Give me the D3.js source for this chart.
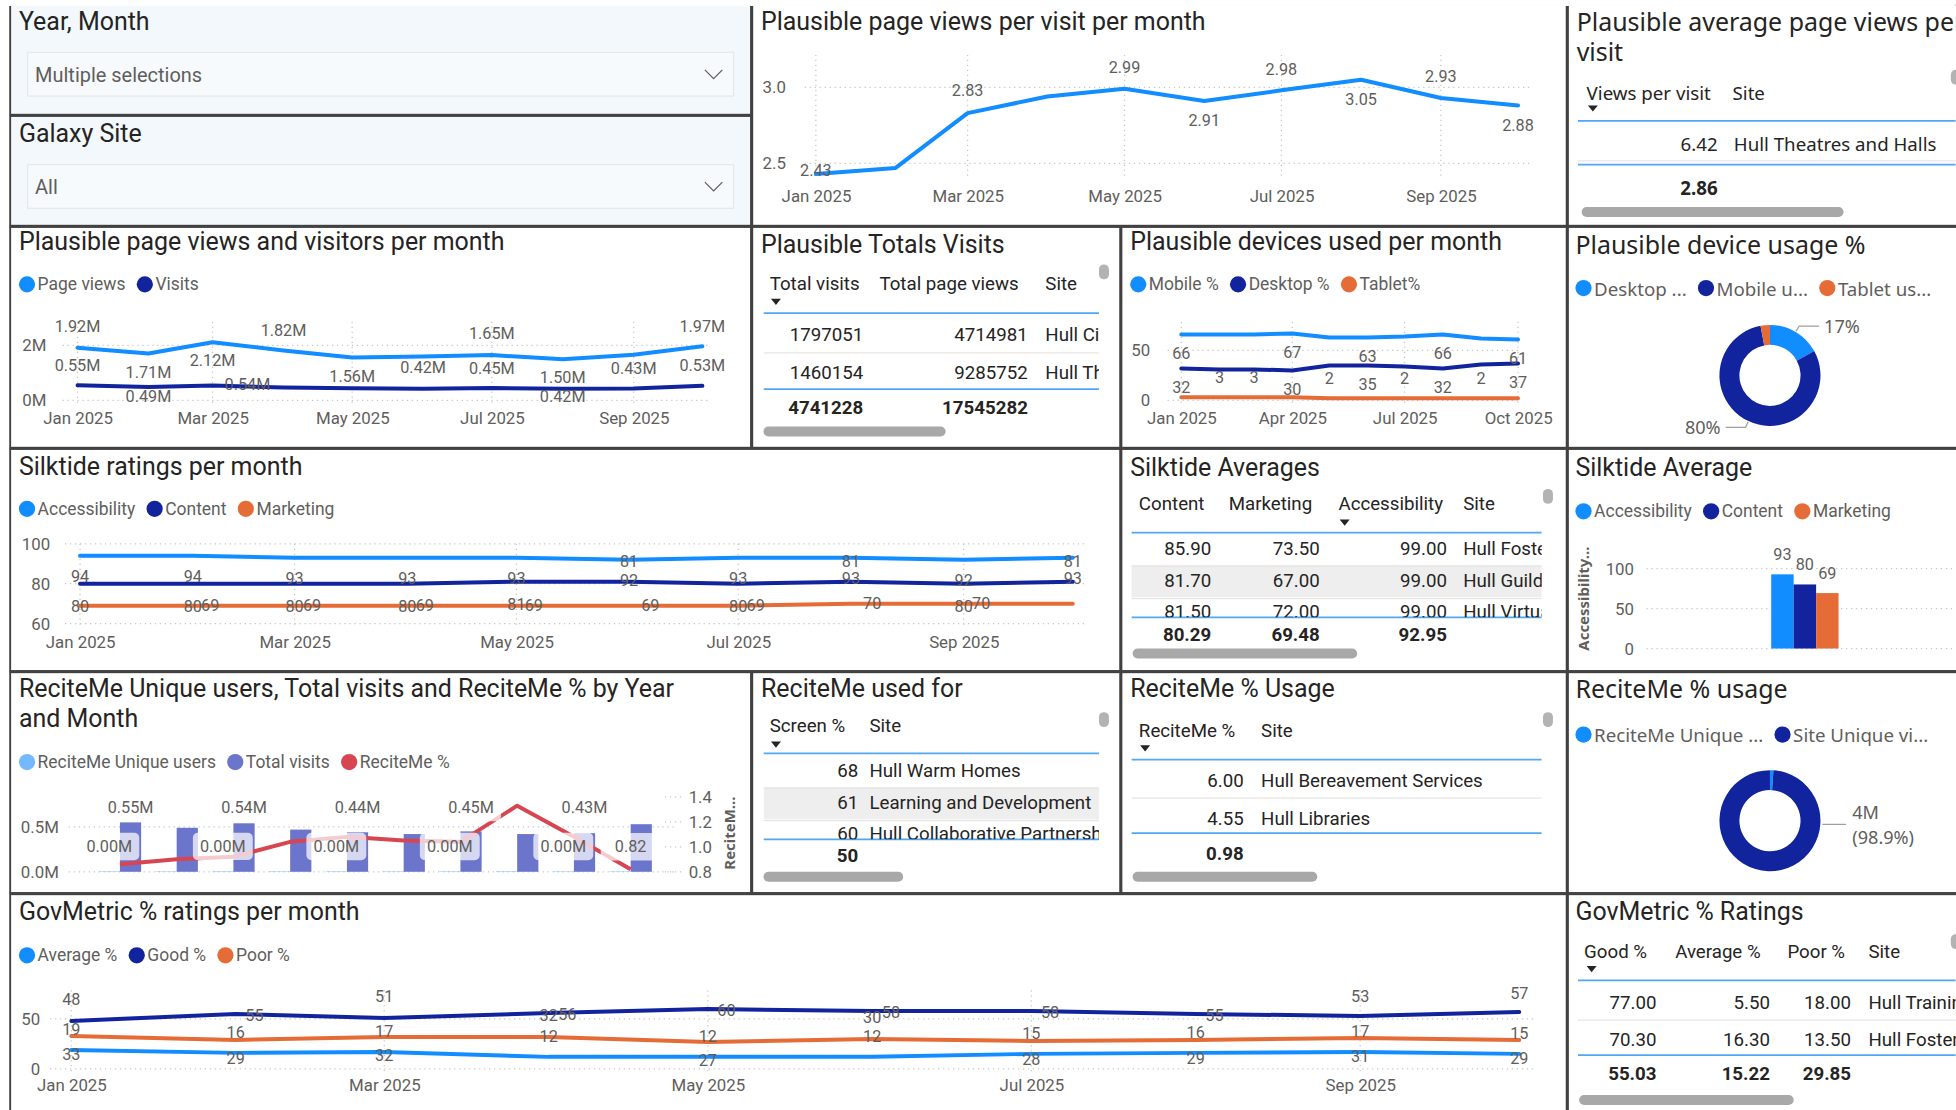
<!DOCTYPE html>
<html>
<head>
<meta charset="utf-8">
<title>Web analytics dashboard</title>
<script src="https://cdn.jsdelivr.net/npm/d3@7/dist/d3.min.js"></script>
<style>
  body { margin: 0; background: #fff; }
  svg { display: block; }
  text { font-family: Roboto, "DejaVu Sans", sans-serif; fill: #605E5C; }
  .title { fill: #252423; font-size: 20px; }
  .seg { font-family: "Noto Sans", sans-serif; }
  .tick text { font-size: 13.5px; fill: #605E5C; }
  .lbl { font-size: 13px; fill: #605E5C; }
  .grid { stroke: #C8C6C4; stroke-dasharray: 1 3; stroke-width: 1; }
</style>
</head>
<body>
<svg id="dash" width="1956" height="1110" viewBox="0 0 1568 890"></svg>
<script>
// ---------- data ----------
const months = ["Jan 2025", "Feb 2025", "Mar 2025", "Apr 2025", "May 2025",
  "Jun 2025", "Jul 2025", "Aug 2025", "Sep 2025", "Oct 2025"];
const viewsPerVisit = [2.43, 2.47, 2.83, 2.94, 2.99, 2.91, 2.98, 3.05, 2.93, 2.88];
const pageViews = [1.92e6, 1.71e6, 2.12e6, 1.82e6, 1.56e6, 1.60e6, 1.65e6, 1.50e6, 1.66e6, 1.97e6];
const visits = [0.55e6, 0.49e6, 0.54e6, 0.47e6, 0.44e6, 0.42e6, 0.45e6, 0.42e6, 0.43e6, 0.53e6];
const mobilePct = [66, 66, 66, 67, 63, 63, 64, 66, 62, 61];
const desktopPct = [32, 31, 31, 30, 35, 35, 34, 32, 36, 37];
const tabletPct = [3, 3, 3, 3, 2, 2, 2, 2, 2, 2];
const deviceNames = ["Desktop usage %", "Mobile usage %", "Tablet usage %"];
const deviceShare = [17, 80, 3];
const accessibility = [94, 94, 93, 93, 93, 92, 93, 93, 92, 93];
const content = [80, 80, 80, 80, 81, 81, 80, 81, 80, 81];
const marketing = [69, 69, 69, 69, 69, 69, 69, 70, 70, 70];
const silktideNames = ["Accessibility", "Content", "Marketing"];
const silktideAvg = [92.95, 80.29, 69.48];
const reciteUsers = [4700, 4400, 4950, 4900, 4750, 4400, 4700, 5600, 4650, 4350];
const recitePct = [0.86, 0.90, 0.92, 1.04, 1.08, 1.05, 1.04, 1.33, 1.08, 0.82];
const reciteShareNames = ["ReciteMe Unique users", "Site Unique visitors"];
const reciteShare = [47000, 4200000];
const govAverage = [19, 16, 17, 12, 12, 12, 15, 16, 17, 15];
const govGood = [48, 55, 51, 56, 60, 58, 58, 55, 53, 57];
const govPoor = [33, 29, 32, 32, 27, 30, 28, 29, 31, 29];

const avgViewsCols = ["Views per visit", "Site"];
const avgViewsRows = [[6.42, "Hull Theatres and Halls"]];
const avgViewsTotal = [2.86];
const totalsCols = ["Total visits", "Total page views", "Site"];
const totalsRows = [[1797051, 4714981, "Hull City Council"], [1460154, 9285752, "Hull Theatres and Halls"]];
const totalsTotal = [4741228, 17545282];
const silkCols = ["Content", "Marketing", "Accessibility", "Site"];
const silkRows = [[85.90, 73.50, 99.00, "Hull Fostering"], [81.70, 67.00, 99.00, "Hull Guildhall"], [81.50, 72.00, 99.00, "Hull Virtual School"]];
const silkTotal = [80.29, 69.48, 92.95];
const screenCols = ["Screen %", "Site"];
const screenRows = [[68, "Hull Warm Homes"], [61, "Learning and Development"], [60, "Hull Collaborative Partnership"]];
const screenTotal = [50];
const reciteCols = ["ReciteMe %", "Site"];
const reciteRows = [[6.00, "Hull Bereavement Services"], [4.55, "Hull Libraries"]];
const reciteTotal = [0.98];
const govCols = ["Good %", "Average %", "Poor %", "Site"];
const govRows = [[77.00, 5.50, 18.00, "Hull Training"], [70.30, 16.30, 13.50, "Hull Fostering"]];
const govTotal = [55.03, 15.22, 29.85];

// ---------- setup ----------
const svg = d3.select("#dash");
const C = { light: "#118DFF", dark: "#12239E", orange: "#E66C37", red: "#D64550", purple: "#6B75CB", sky: "#74B9FF" };
const dates = months.map(d3.timeParse("%b %Y"));
const f2 = d3.format(".2f"), f0 = d3.format("d");
const fmtM = v => f2(v / 1e6) + "M";
let clipN = 0;
function clip(x, y, w, h) {
  const id = "c" + (clipN++);
  svg.append("clipPath").attr("id", id).append("rect").attr("x", x).attr("y", y).attr("width", w).attr("height", h);
  return "url(#" + id + ")";
}

// panels: x, y, w, h, fill
const panels = [
  [8, 4, 594, 88, "#F3F8FC"], [8, 93, 594, 88, "#F3F8FC"], [603, 4, 653, 177], [1257, 4, 330, 177],
  [8, 182, 594, 177], [603, 182, 295, 177], [899, 182, 357, 177], [1257, 182, 330, 177],
  [8, 360, 890, 178], [899, 360, 357, 178], [1257, 360, 330, 178],
  [8, 539, 594, 177], [603, 539, 295, 177], [899, 539, 357, 177], [1257, 539, 330, 177],
  [8, 717, 1248, 190], [1257, 717, 330, 190]
];
svg.selectAll("rect.panel").data(panels).join("rect").attr("class", "panel")
  .attr("x", d => d[0]).attr("y", d => d[1]).attr("width", d => d[2]).attr("height", d => d[3])
  .attr("fill", d => d[4] || "#fff").attr("stroke", "#404040").attr("stroke-width", 1.5);
svg.append("rect").attr("x", 0).attr("y", 0).attr("width", 1568).attr("height", 4.8).attr("fill", "#fff");

function title(x, y, txt, seg) {
  svg.append("text").attr("class", "title" + (seg ? " seg" : "")).attr("x", x).attr("y", y)
    .attr("dominant-baseline", "central").attr("font-size", seg ? 19 : null).text(txt);
}

function legend(x, y, names, colors, size, seg) {
  const g = svg.append("g").attr("transform", `translate(${x},${y})`);
  let cx = 0;
  names.forEach((n, i) => {
    g.append("circle").attr("cx", cx + 6.5).attr("r", 6.5).attr("fill", colors[i]);
    const t = g.append("text").attr("x", cx + 15).attr("dominant-baseline", "central")
      .attr("font-size", size).attr("class", seg ? "seg" : null).text(n);
    cx += 15 + t.node().getComputedTextLength() + 9;
  });
}

// slicers
[["Year, Month", 17, "Multiple selections", 42], ["Galaxy Site", 107, "All", 132]].forEach(s => {
  title(15, s[1], s[0]);
  svg.append("rect").attr("x", 22).attr("y", s[3]).attr("width", 566).attr("height", 35)
    .attr("fill", "#F7FAFD").attr("stroke", "#E6E8EA");
  svg.append("text").attr("x", 28).attr("y", s[3] + 18).attr("dominant-baseline", "central")
    .attr("font-size", 16).text(s[2]);
  svg.append("path").attr("d", `M565,${s[3] + 14}L572,${s[3] + 21}L579,${s[3] + 14}`)
    .attr("fill", "none").attr("stroke", "#605E5C").attr("stroke-width", 1);
});

// ---------- line charts ----------
function lineChart(c) {
  const g = svg.append("g");
  const x = d3.scaleTime().domain(d3.extent(dates)).range(c.xr);
  const y = d3.scaleLinear().domain(c.yd).range(c.yr);
  const xt = dates.filter((d, i) => i % c.xEvery === 0);
  g.selectAll(null).data(c.yTicks).join("line").attr("class", "grid")
    .attr("x1", c.gx[0]).attr("x2", c.gx[1]).attr("y1", y).attr("y2", y);
  g.selectAll(null).data(xt).join("line").attr("class", "grid")
    .attr("x1", x).attr("x2", x).attr("y1", c.gy[0]).attr("y2", c.gy[1]);
  const ya = g.append("g").attr("transform", `translate(${c.yAxisX},0)`)
    .call(d3.axisLeft(y).tickValues(c.yTicks).tickFormat(c.yFmt).tickSize(0).tickPadding(0));
  const xa = g.append("g").attr("transform", `translate(0,${c.xAxisY})`)
    .call(d3.axisBottom(x).tickValues(xt).tickFormat(d3.timeFormat("%b %Y")).tickSize(0).tickPadding(0));
  [ya, xa].forEach(a => {
    a.attr("font-size", null).attr("font-family", null);
    a.select(".domain").remove();
    a.selectAll(".tick line").remove();
  });
  xa.selectAll("text").attr("y", 0).attr("dy", "0.35em");
  c.series.forEach(s => {
    g.append("path").datum(s.values).attr("fill", "none").attr("stroke", s.color).attr("stroke-width", 3.2)
      .attr("stroke-linejoin", "round").attr("stroke-linecap", "round")
      .attr("d", d3.line().x((d, i) => x(dates[i])).y(d => y(d)));
  });
  c.series.forEach(s => {
    g.selectAll(null).data(s.values.map((v, i) => ({ v, i, o: s.offs[i] })).filter(d => d.o))
      .join("text").attr("class", "lbl").attr("text-anchor", "middle").attr("dominant-baseline", "central")
      .attr("x", d => x(dates[d.i]) + d.o[0]).attr("y", d => y(d.v) + d.o[1]).text(d => s.fmt(d.v));
  });
}

const A = [0, -17], B = [0, 15];

title(610, 17, "Plausible page views per visit per month");
lineChart({
  xr: [654, 1217], yd: [2.5, 3.0], yr: [131, 70], yTicks: [2.5, 3.0], yFmt: d3.format(".1f"),
  gx: [645, 1228], gy: [44, 144], yAxisX: 630, xAxisY: 157, xEvery: 2,
  series: [{ values: viewsPerVisit, color: C.light, fmt: f2,
    offs: [[0, -3], null, [0, -18], null, A, [0, 16], A, [0, 16], A, [0, 16]] }]
});

title(15, 194, "Plausible page views and visitors per month");
legend(15, 228, ["Page views", "Visits"], [C.light, C.dark], 14);
lineChart({
  xr: [62, 563], yd: [0, 2e6], yr: [321, 277], yTicks: [0, 2e6], yFmt: d => d / 1e6 + "M",
  gx: [50, 569], gy: [258, 323], yAxisX: 37, xAxisY: 335, xEvery: 2,
  series: [
    { values: pageViews, color: C.light, fmt: fmtM,
      offs: [A, B, B, [0, -16], B, null, A, B, null, [0, -16]] },
    { values: visits, color: C.dark, fmt: fmtM,
      offs: [[0, -16], [0, 8], [28, -1], null, null, A, [0, -16], [0, 6], [0, -16], [0, -16]] }
  ]
});

title(906, 194, "Plausible devices used per month");
legend(906, 228, ["Mobile %", "Desktop %", "Tablet%"], [C.light, C.dark, C.orange], 14);
const every = (idx, o) => d3.range(10).map(i => idx.includes(i) ? o : null);
lineChart({
  xr: [947, 1217], yd: [0, 50], yr: [321, 281], yTicks: [0, 50], yFmt: f0,
  gx: [936, 1218], gy: [258, 323], yAxisX: 922, xAxisY: 335, xEvery: 3,
  series: [
    { values: mobilePct, color: C.light, fmt: f0, offs: every([0, 3, 5, 7, 9], B) },
    { values: desktopPct, color: C.dark, fmt: f0, offs: every([0, 3, 5, 7, 9], B) },
    { values: tabletPct, color: C.orange, fmt: f0, offs: every([1, 2, 4, 6, 8], [0, -16]) }
  ]
});

title(15, 374, "Silktide ratings per month");
legend(15, 408, silktideNames, [C.light, C.dark, C.orange], 14);
lineChart({
  xr: [64, 860], yd: [60, 100], yr: [500, 436], yTicks: [60, 80, 100], yFmt: f0,
  gx: [52, 869], gy: [436, 502], yAxisX: 40, xAxisY: 515, xEvery: 2,
  series: [
    { values: accessibility, color: C.light, fmt: f0, offs: d3.range(10).map(() => [0, 17]) },
    { values: content, color: C.dark, fmt: f0,
      offs: d3.range(10).map(i => [5, 7, 9].includes(i) ? [0, -16] : [0, 18]) },
    { values: marketing, color: C.orange, fmt: f0,
      offs: d3.range(10).map(i => i === 0 || i === 9 ? null : ([5, 7].includes(i) ? [17, 0] : [14, 0])) }
  ]
});

title(15, 731, "GovMetric % ratings per month");
legend(15, 766, ["Average %", "Good %", "Poor %"], [C.light, C.dark, C.orange], 14);
const R = [15, 1];
lineChart({
  xr: [57, 1218], yd: [0, 50], yr: [857, 817], yTicks: [0, 50], yFmt: f0,
  gx: [40, 1230], gy: [794, 860], yAxisX: 32, xAxisY: 870, xEvery: 2,
  series: [
    { values: govAverage, color: C.light, fmt: f0, offs: d3.range(10).map(() => [0, -16]) },
    { values: govGood, color: C.dark, fmt: f0, offs: [A, R, A, R, R, R, R, R, [0, -16], [0, -15]] },
    { values: govPoor, color: C.orange, fmt: f0,
      offs: d3.range(10).map(i => (i === 3 || i === 5) ? [0, -17] : B) }
  ]
});

// ---------- ReciteMe combo chart ----------
title(15, 552, "ReciteMe Unique users, Total visits and ReciteMe % by Year");
title(15, 576, "and Month");
legend(15, 611, ["ReciteMe Unique users", "Total visits", "ReciteMe %"], [C.sky, C.purple, C.red], 14);
(function () {
  const g = svg.append("g");
  const x = d3.scaleBand().domain(months).range([73.25, 528.25]);
  const sub = d3.scaleBand().domain(["users", "visits"]).range([-17, 17]);
  const yL = d3.scaleLinear().domain([0, 0.5e6]).range([699, 663]);
  const yR = d3.scaleLinear().domain([0.8, 1.4]).range([699, 639]);
  const mid = m => x(m) + x.bandwidth() / 2;
  g.selectAll(null).data([0, 0.5e6]).join("line").attr("class", "grid")
    .attr("x1", 55).attr("x2", 540).attr("y1", yL).attr("y2", yL);
  g.selectAll(null).data([0.8, 1.0, 1.2, 1.4]).join("line").attr("class", "grid")
    .attr("x1", 533).attr("x2", 546).attr("y1", yR).attr("y2", yR);
  const ya = g.append("g").attr("transform", "translate(47,0)")
    .call(d3.axisLeft(yL).tickValues([0, 0.5e6]).tickFormat(d => d3.format(".1f")(d / 1e6) + "M").tickSize(0).tickPadding(0));
  const yr = g.append("g").attr("transform", "translate(552,0)")
    .call(d3.axisRight(yR).tickValues([0.8, 1.0, 1.2, 1.4]).tickFormat(d3.format(".1f")).tickSize(0).tickPadding(0));
  [ya, yr].forEach(a => { a.attr("font-size", null).attr("font-family", null); a.select(".domain").remove(); a.selectAll(".tick line").remove(); });
  g.append("text").attr("transform", "translate(589,668) rotate(-90)").attr("text-anchor", "middle")
    .attr("font-size", 12).attr("font-weight", "bold").attr("class", "seg").text("ReciteM...");
  g.selectAll(null).data(months).join("rect")
    .attr("x", m => mid(m) + sub("users")).attr("width", sub.bandwidth())
    .attr("y", (m, i) => yL(reciteUsers[i])).attr("height", (m, i) => 699 - yL(reciteUsers[i])).attr("fill", C.sky);
  g.selectAll(null).data(months).join("rect")
    .attr("x", m => mid(m) + sub("visits")).attr("width", sub.bandwidth())
    .attr("y", (m, i) => yL(visits[i])).attr("height", (m, i) => 699 - yL(visits[i])).attr("fill", C.purple);
  g.append("path").datum(recitePct).attr("fill", "none").attr("stroke", C.red).attr("stroke-width", 3.2)
    .attr("stroke-linejoin", "round").attr("d", d3.line().x((d, i) => mid(months[i])).y(d => yR(d)));
  // data labels with translucent backgrounds
  const labs = [];
  months.forEach((m, i) => {
    if (i % 2 === 0) {
      labs.push({ x: mid(m) + sub("visits") + 8.5, y: yL(d3.max(visits)) - 12, t: fmtM(visits[i]) });
      labs.push({ x: mid(m) + sub("users") + 8.5, y: yL(reciteUsers[i]) - 20, t: fmtM(reciteUsers[i]) });
    }
  });
  labs.push({ x: mid(months[9]), y: yR(recitePct[9]) - 18, t: f2(recitePct[9]) });
  const lg = g.selectAll(null).data(labs).join("g");
  lg.append("rect").attr("x", d => d.x - 24).attr("y", d => d.y - 11)
    .attr("width", 48).attr("height", 22).attr("rx", 4).attr("fill", "#fff").attr("opacity", 0.72);
  lg.append("text").attr("class", "lbl").attr("x", d => d.x).attr("y", d => d.y)
    .attr("text-anchor", "middle").attr("dominant-baseline", "central").text(d => d.t);
})();

// ---------- Silktide average bars ----------
title(1263, 375, "Silktide Average");
legend(1263, 410, silktideNames, [C.light, C.dark, C.orange], 14);
(function () {
  const g = svg.append("g");
  const x = d3.scaleBand().domain(silktideNames).range([1420, 1474]);
  const y = d3.scaleLinear().domain([0, 100]).range([520, 456]);
  g.selectAll(null).data([0, 50, 100]).join("line").attr("class", "grid")
    .attr("x1", 1320).attr("x2", 1568).attr("y1", y).attr("y2", y);
  const ya = g.append("g").attr("transform", "translate(1310,0)")
    .call(d3.axisLeft(y).tickValues([0, 50, 100]).tickSize(0).tickPadding(0));
  ya.attr("font-size", null).attr("font-family", null);
  ya.select(".domain").remove();
  g.append("text").attr("transform", "translate(1274,480) rotate(-90)").attr("text-anchor", "middle")
    .attr("font-size", 12).attr("font-weight", "bold").attr("class", "seg").text("Accessibility...");
  const colors = [C.light, C.dark, C.orange];
  g.selectAll(null).data(silktideAvg).join("rect")
    .attr("x", (d, i) => x(silktideNames[i])).attr("width", x.bandwidth())
    .attr("y", d => y(d)).attr("height", d => 520 - y(d)).attr("fill", (d, i) => colors[i]);
  g.selectAll(null).data(silktideAvg).join("text").attr("class", "lbl").attr("text-anchor", "middle")
    .attr("x", (d, i) => x(silktideNames[i]) + x.bandwidth() / 2).attr("y", d => y(d) - 16)
    .attr("dominant-baseline", "central").text(d => d3.format(".0f")(d));
})();

// ---------- donuts ----------
function donut(cx, cy, values, colors) {
  const g = svg.append("g").attr("transform", `translate(${cx},${cy})`);
  const arcs = d3.pie().sort(null).value(d => d)(values);
  const arc = d3.arc().innerRadius(24.5).outerRadius(40.5);
  g.selectAll(null).data(arcs).join("path").attr("d", arc).attr("fill", (d, i) => colors[i]);
  return { g, arcs };
}
title(1263, 196, "Plausible device usage %", true);
legend(1263, 231, ["Desktop ...", "Mobile u...", "Tablet us..."], [C.light, C.dark, C.orange], 15, true);
(function () {
  const { g, arcs } = donut(1419, 301, deviceShare, [C.light, C.dark, C.orange]);
  const total = d3.sum(deviceShare);
  arcs.slice(0, 2).forEach(a => {
    const m = (a.startAngle + a.endAngle) / 2, s = Math.sin(m) >= 0 ? 1 : -1;
    const p0 = [Math.sin(m) * 41, -Math.cos(m) * 41], p1 = [Math.sin(m) * 46, -Math.cos(m) * 46];
    const p2 = [p1[0] + s * 16, p1[1]];
    g.append("path").attr("d", `M${p0}L${p1}L${p2}`).attr("fill", "none").attr("stroke", "#A19F9D");
    g.append("text").attr("class", "seg").attr("font-size", 14.5).attr("x", p2[0] + s * 4).attr("y", p2[1])
      .attr("text-anchor", s > 0 ? "start" : "end").attr("dominant-baseline", "central")
      .text(d3.format(".0f")(a.data / total * 100) + "%");
  });
})();

title(1263, 552, "ReciteMe % usage", true);
legend(1263, 589, ["ReciteMe Unique ...", "Site Unique vi..."], [C.light, C.dark], 15, true);
(function () {
  const { g } = donut(1419, 658, reciteShare, [C.light, C.dark]);
  const total = d3.sum(reciteShare);
  g.append("path").attr("d", "M42,3L61,3").attr("stroke", "#A19F9D");
  g.append("text").attr("class", "seg").attr("font-size", 14.5).attr("x", 66).attr("y", -7)
    .attr("dominant-baseline", "central").text(d3.format(".0f")(reciteShare[1] / 1e6) + "M");
  g.append("text").attr("class", "seg").attr("font-size", 14.5).attr("x", 66).attr("y", 13)
    .attr("dominant-baseline", "central").text("(" + d3.format(".1f")(reciteShare[1] / total * 100) + "%)");
})();

// ---------- tables ----------
function table(t) {
  const g = svg.append("g").attr("font-size", 15);
  const full = clip(t.x0, 0, t.x1 - t.x0, 890);
  const body = clip(t.x0, t.line1, t.x1 - t.x0, t.line2 - t.line1);
  const cls = t.seg ? "seg" : null;
  const hg = g.append("g").attr("clip-path", full);
  t.cols.forEach((c, j) => {
    hg.append("text").attr("class", cls).attr("x", c[0]).attr("y", t.headY).attr("dominant-baseline", "central")
      .style("fill", "#252423").text(t.names[j]);
  });
  hg.append("path").attr("d", `M${t.arrow[0] - 4},${t.arrow[1] - 2.5}h8l-4,5z`).attr("fill", "#252423");
  const bg = g.append("g").attr("clip-path", body);
  if (t.shade != null) {
    bg.append("rect").attr("x", t.x0).attr("width", t.x1 - t.x0).attr("y", t.rowY[t.shade] - 13)
      .attr("height", 26).attr("fill", "#EEEEEE");
  }
  t.rows.forEach((r, i) => {
    bg.append("line").attr("x1", t.x0).attr("x2", t.x1).attr("y1", t.rowY[i] + 14).attr("y2", t.rowY[i] + 14)
      .attr("stroke", "#E8E6E4");
    r.forEach((v, j) => {
      const c = t.cols[j];
      bg.append("text").attr("class", cls).attr("x", c[1]).attr("y", t.rowY[i])
        .attr("text-anchor", c[2]).attr("dominant-baseline", "central").style("fill", "#252423")
        .text(typeof v === "number" ? t.fmt(v) : v);
    });
  });
  [t.line1, t.line2].forEach(yy => hg.append("line").attr("x1", t.x0).attr("x2", t.x1).attr("y1", yy).attr("y2", yy)
    .attr("stroke", "#4FA7F6").attr("stroke-width", 1.4));
  t.total.forEach((v, j) => {
    hg.append("text").attr("class", cls).attr("x", t.cols[j][1]).attr("y", t.totY).attr("text-anchor", "end")
      .attr("dominant-baseline", "central").attr("font-weight", "bold").style("fill", "#252423").text(t.fmt(v));
  });
  g.append("rect").attr("x", t.scroll[0]).attr("y", t.scroll[2] - 4).attr("width", t.scroll[1] - t.scroll[0])
    .attr("height", 8).attr("rx", 4).attr("fill", "#A8A8A8");
  g.append("rect").attr("x", t.knob[0] - 4).attr("y", t.knob[1] - 6).attr("width", 8).attr("height", 12)
    .attr("rx", 4).attr("fill", "#B3B3B3");
}

title(1264, 17, "Plausible average page views per", true);
title(1264, 41, "visit", true);
table({ seg: true, x0: 1265, x1: 1568, names: avgViewsCols, cols: [[1272, 1377, "end"], [1389, 1390, "start"]],
  headY: 74, arrow: [1277, 87], line1: 97, rows: avgViewsRows, rowY: [115], line2: 132,
  total: avgViewsTotal, totY: 150, scroll: [1268, 1478, 170], knob: [1568, 62], fmt: f2 });

title(610, 196, "Plausible Totals Visits");
table({ x0: 612, x1: 881, names: totalsCols, cols: [[617, 692, "end"], [705, 824, "end"], [838, 838, "start"]],
  headY: 228, arrow: [622, 242], line1: 251, rows: totalsRows, rowY: [269, 299], line2: 312,
  total: totalsTotal, totY: 327, scroll: [612, 758, 346], knob: [885, 218], fmt: f0 });

title(906, 375, "Silktide Averages");
table({ x0: 907, x1: 1236, names: silkCols,
  cols: [[913, 971, "end"], [985, 1058, "end"], [1073, 1160, "end"], [1173, 1173, "start"]],
  headY: 404, arrow: [1078, 419], line1: 427, rows: silkRows, rowY: [440, 466, 491], shade: 1, line2: 495,
  total: silkTotal, totY: 509, scroll: [908, 1088, 524], knob: [1241, 398], fmt: f2 });

title(610, 552, "ReciteMe used for");
table({ x0: 612, x1: 881, names: screenCols, cols: [[617, 688, "end"], [697, 697, "start"]],
  headY: 582, arrow: [622, 597], line1: 604, rows: screenRows, rowY: [618, 644, 669], shade: 1, line2: 673,
  total: screenTotal, totY: 686, scroll: [612, 724, 703], knob: [885, 577], fmt: f0 });

title(906, 552, "ReciteMe % Usage");
table({ x0: 907, x1: 1236, names: reciteCols, cols: [[913, 997, "end"], [1011, 1011, "start"]],
  headY: 586, arrow: [918, 600], line1: 609, rows: reciteRows, rowY: [626, 657], line2: 668,
  total: reciteTotal, totY: 685, scroll: [908, 1056, 703], knob: [1241, 577], fmt: f2 });

title(1263, 731, "GovMetric % Ratings");
table({ x0: 1265, x1: 1568, names: govCols,
  cols: [[1270, 1328, "end"], [1343, 1419, "end"], [1433, 1484, "end"], [1498, 1498, "start"]],
  headY: 763, arrow: [1276, 777], line1: 786, rows: govRows, rowY: [804, 834], line2: 846,
  total: govTotal, totY: 861, scroll: [1266, 1438, 882], knob: [1568, 755], fmt: f2 });
</script>
</body>
</html>
